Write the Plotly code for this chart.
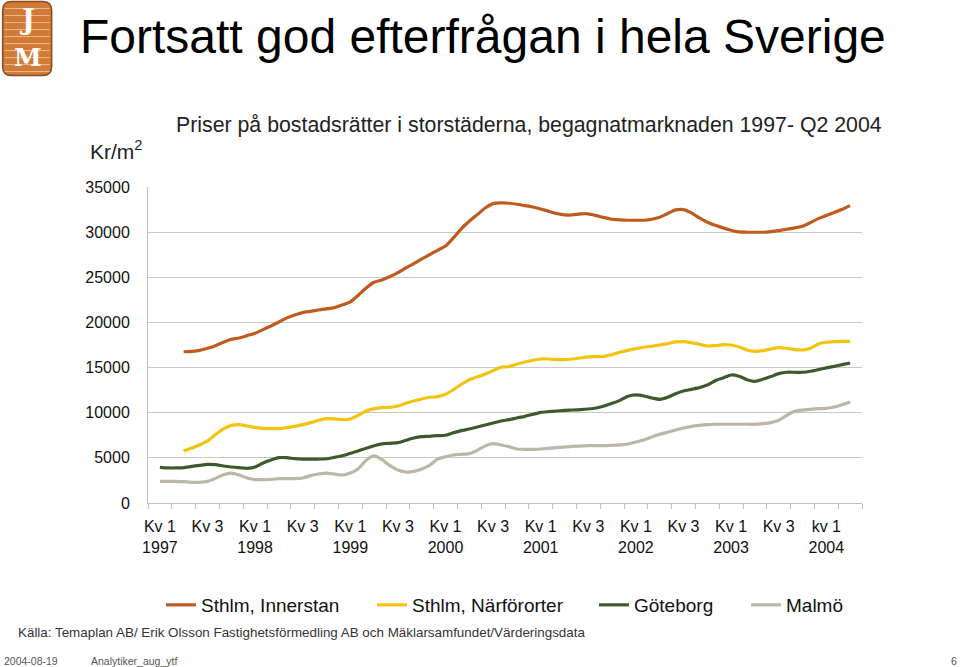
import plotly.graph_objects as go

# ---------------- data (monthly, kr/m2) ----------------
series_names = ["Sthlm, Innerstan", "Sthlm, Närförorter", "Göteborg", "Malmö"]
series_colors = ["#BF5B1E", "#F2C40F", "#3E5A2C", "#BDB5A6"]

# first month index (0 = Jan 1997) of each series
start_innerstan = 4
start_narfororter = 4
start_goteborg = 1
start_malmo = 1

innerstan = [16750, 16800, 16900, 17130, 17430, 17800, 18130, 18280, 18540, 18800,
             19200, 19610, 20050, 20500, 20830, 21090, 21230, 21380, 21500, 21640,
             21940, 22270, 23010, 23820, 24450, 24710, 25080, 25520, 26040, 26520,
             27030, 27510, 27990, 28470, 29360, 30390, 31210, 31940, 32680, 33160,
             33240, 33200, 33090, 32940, 32790, 32570, 32310, 32060, 31910, 31910,
             32020, 32020, 31830, 31610, 31430, 31350, 31320, 31320, 31320, 31430,
             31650, 32060, 32460, 32500, 32130, 31570, 31100, 30760, 30470, 30210,
             30020, 29990, 29990, 29990, 30060, 30170, 30320, 30470, 30650, 31060,
             31500, 31830, 32170, 32530, 32940]

narfororter = [5760, 6090, 6430, 6870, 7570, 8200, 8600, 8680, 8530, 8380,
               8270, 8240, 8240, 8350, 8490, 8680, 8900, 9160, 9340, 9310,
               9230, 9310, 9710, 10190, 10450, 10560, 10600, 10750, 11040, 11300,
               11520, 11710, 11780, 12040, 12560, 13150, 13660, 13960, 14290, 14660,
               15030, 15100, 15400, 15620, 15810, 15950, 15950, 15880, 15880, 15950,
               16060, 16180, 16210, 16250, 16430, 16690, 16910, 17100, 17250, 17360,
               17500, 17650, 17840, 17880, 17760, 17580, 17390, 17430, 17540, 17500,
               17280, 16950, 16800, 16880, 17060, 17210, 17140, 16990, 16950, 17140,
               17620, 17800, 17870, 17910, 17910]

goteborg = [3950, 3880, 3880, 3910, 4060, 4170, 4280, 4250, 4100, 3990,
            3910, 3840, 3990, 4430, 4760, 5020, 5020, 4910, 4870, 4870,
            4870, 4900, 5060, 5240, 5500, 5760, 6060, 6350, 6540, 6610,
            6680, 6940, 7200, 7350, 7390, 7460, 7500, 7790, 8010, 8200,
            8420, 8640, 8860, 9080, 9230, 9420, 9600, 9820, 10040, 10120,
            10190, 10270, 10300, 10340, 10410, 10520, 10750, 11040, 11370, 11820,
            11970, 11850, 11630, 11480, 11710, 12110, 12410, 12590, 12780, 13070,
            13550, 13850, 14180, 14030, 13660, 13480, 13700, 14000, 14330, 14480,
            14480, 14480, 14590, 14770, 14960, 15140, 15330, 15510]

malmo = [2400, 2400, 2400, 2360, 2290, 2290, 2400, 2730, 3140, 3320,
         3100, 2770, 2590, 2590, 2620, 2700, 2700, 2700, 2770, 3030,
         3210, 3320, 3210, 3100, 3320, 3800, 4730, 5210, 4800, 4140,
         3660, 3430, 3510, 3770, 4170, 4870, 5130, 5320, 5390, 5470,
         5830, 6320, 6570, 6430, 6240, 5980, 5950, 5950, 5980, 6060,
         6130, 6200, 6280, 6310, 6350, 6350, 6350, 6390, 6430, 6540,
         6760, 6980, 7310, 7610, 7830, 8090, 8310, 8490, 8600, 8680,
         8720, 8720, 8720, 8720, 8720, 8720, 8790, 8900, 9160, 9710,
         10160, 10300, 10380, 10450, 10490, 10640, 10890, 11190]

# category (quarter) labels, every second quarter
tick_labels = ["Kv 1<br>1997", "Kv 3", "Kv 1<br>1998", "Kv 3", "Kv 1<br>1999", "Kv 3",
               "Kv 1<br>2000", "Kv 3", "Kv 1<br>2001", "Kv 3", "Kv 1<br>2002", "Kv 3",
               "Kv 1<br>2003", "Kv 3", "kv 1<br>2004"]
n_quarters = 30  # Q1 1997 .. Q2 2004

y_ticks = [0, 5000, 10000, 15000, 20000, 25000, 30000, 35000]

# ---------------- figure ----------------
W, H = 960, 667
L, R, T, B = 148.3, 862.0, 187.3, 503.0
FONT = "Liberation Sans, Arial, sans-serif"

def px(x):
    return (x - L) / (R - L)

def py(y):
    return (B - y) / (B - T)

fig = go.Figure()

data = [
    (innerstan, start_innerstan),
    (narfororter, start_narfororter),
    (goteborg, start_goteborg),
    (malmo, start_malmo),
]
legend_ids = ["legend", "legend2", "legend3", "legend4"]

for i, ((vals, start), name, color) in enumerate(zip(data, series_names, series_colors)):
    xs = [start + k + 0.5 for k in range(len(vals))]
    fig.add_trace(go.Scatter(
        x=xs, y=vals, mode="lines", name=name,
        line=dict(color=color, width=3.2, shape="spline", smoothing=0.6),
        legend=legend_ids[i], hoverinfo="skip",
    ))

tickvals = [3 * q + 1.5 for q in range(0, n_quarters, 2)]

fig.update_xaxes(
    range=[0, 3 * n_quarters],
    tickmode="array", tickvals=tickvals, ticktext=tick_labels,
    ticks="outside", ticklen=9, tickcolor="rgba(0,0,0,0)",
    showgrid=False, zeroline=False,
    showline=True, linecolor="#BFBFBF", linewidth=1,
    tickfont=dict(family=FONT, size=16, color="#111"),
    minor=dict(tickmode="linear", tick0=0, dtick=3, ticks="outside",
               ticklen=5, tickcolor="#BFBFBF", showgrid=False),
    fixedrange=True,
)
fig.update_yaxes(
    range=[0, 35000], tickmode="array", tickvals=y_ticks,
    ticktext=[str(v) for v in y_ticks],
    showgrid=True, gridcolor="#C8C8C8", gridwidth=1,
    zeroline=False, showline=True, linecolor="#BFBFBF", linewidth=1,
    ticks="", ticklabelstandoff=14,
    tickfont=dict(family=FONT, size=16, color="#111"),
    fixedrange=True,
)

# legends: one per series placed like the reference
legend_line_starts = [166, 377, 599, 751]
leg_layout = {}
for lid, xs0 in zip(legend_ids, legend_line_starts):
    leg_layout[lid] = dict(
        orientation="h", xref="container", yref="container",
        x=(xs0 - 5) / W, y=1 - 605 / H, xanchor="left", yanchor="middle",
        font=dict(family=FONT, size=19, color="#111"),
        bgcolor="rgba(0,0,0,0)", borderwidth=0,
    )

ann = []
ann.append(dict(text="Fortsatt god efterfrågan i hela Sverige", x=px(78), y=py(37),
                xref="paper", yref="paper", xanchor="left", yanchor="middle",
                showarrow=False, font=dict(family=FONT, size=48, color="#000")))
ann.append(dict(text="Priser på bostadsrätter i storstäderna, begagnatmarknaden 1997- Q2 2004",
                x=px(174), y=py(125), xref="paper", yref="paper", xanchor="left", yanchor="middle",
                showarrow=False, font=dict(family=FONT, size=21.3, color="#222")))
ann.append(dict(text="Kr/m<sup>2</sup>", x=px(88), y=py(150), xref="paper", yref="paper",
                xanchor="left", yanchor="middle", showarrow=False,
                font=dict(family=FONT, size=21, color="#222")))
ann.append(dict(text="Källa: Temaplan AB/ Erik Olsson Fastighetsförmedling AB och Mäklarsamfundet/Värderingsdata",
                x=px(16), y=py(632), xref="paper", yref="paper", xanchor="left", yanchor="middle",
                showarrow=False, font=dict(family=FONT, size=13.4, color="#333")))
ann.append(dict(text="2004-08-19", x=px(2), y=py(661), xref="paper", yref="paper",
                xanchor="left", yanchor="middle", showarrow=False,
                font=dict(family=FONT, size=10.5, color="#555")))
ann.append(dict(text="Analytiker_aug_ytf", x=px(89), y=py(661), xref="paper", yref="paper",
                xanchor="left", yanchor="middle", showarrow=False,
                font=dict(family=FONT, size=10.5, color="#555")))
ann.append(dict(text="6", x=px(959), y=py(661), xref="paper", yref="paper",
                xanchor="right", yanchor="middle", showarrow=False,
                font=dict(family=FONT, size=10.5, color="#555")))
# logo letters
ann.append(dict(text="<b>J</b>", x=px(28), y=py(20), xref="paper", yref="paper",
                xanchor="center", yanchor="middle", showarrow=False,
                font=dict(family="DejaVu Serif", size=27, color="#FFFFFF")))
ann.append(dict(text="<b>M</b>", x=px(28), y=py(57.5), xref="paper", yref="paper",
                xanchor="center", yanchor="middle", showarrow=False,
                font=dict(family="DejaVu Serif", size=25, color="#FFFFFF")))

shapes = []
# logo body (rounded rectangle)
x0, x1, y0, y1, r = 3, 52, 2, 76, 9
path = (f"M {px(x0 + r)} {py(y0)} L {px(x1 - r)} {py(y0)} "
        f"Q {px(x1)} {py(y0)} {px(x1)} {py(y0 + r)} L {px(x1)} {py(y1 - r)} "
        f"Q {px(x1)} {py(y1)} {px(x1 - r)} {py(y1)} L {px(x0 + r)} {py(y1)} "
        f"Q {px(x0)} {py(y1)} {px(x0)} {py(y1 - r)} L {px(x0)} {py(y0 + r)} "
        f"Q {px(x0)} {py(y0)} {px(x0 + r)} {py(y0)} Z")
shapes.append(dict(type="path", path=path, xref="paper", yref="paper",
                   fillcolor="#D27B38", line=dict(color="#8B4A1E", width=1.5), layer="above"))
for yy in range(9, 76, 7):
    shapes.append(dict(type="line", xref="paper", yref="paper",
                       x0=px(5), x1=px(50), y0=py(yy), y1=py(yy),
                       line=dict(color="#EDB98A", width=1), layer="above"))

fig.update_layout(
    width=W, height=H,
    margin=dict(l=L, r=W - R, t=T, b=H - B, autoexpand=False),
    paper_bgcolor="white", plot_bgcolor="white",
    showlegend=True,
    annotations=ann, shapes=shapes,
    **leg_layout,
)
fig.write_html("out.html")
